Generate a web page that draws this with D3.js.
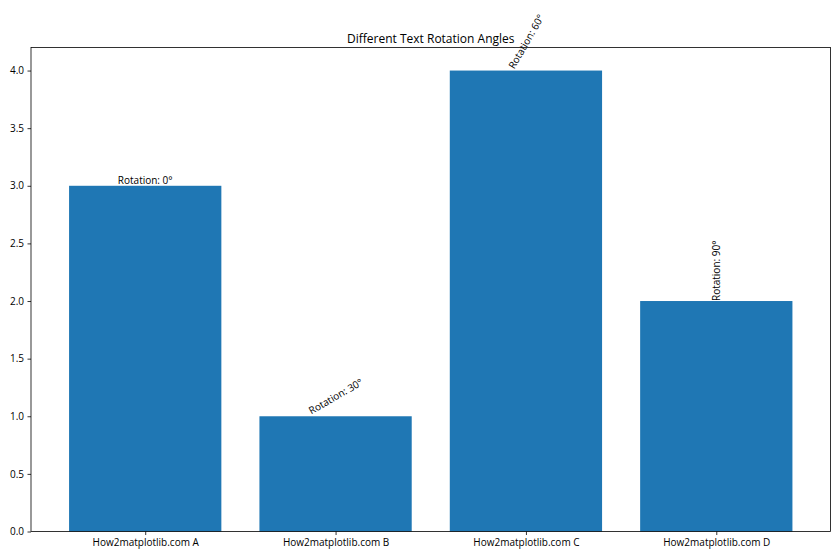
<!DOCTYPE html>
<html>
<head>
<meta charset="utf-8">
<script src="https://cdn.jsdelivr.net/npm/d3@7"></script>
<style>
  body { margin: 0; background: #fff; }
  svg { display: block; }
  text { font-family: "Open Sans", "Noto Sans", sans-serif; fill: #000; }
</style>
</head>
<body>
<svg id="chart" width="840" height="560"></svg>
<script>
const categories = ["How2matplotlib.com A", "How2matplotlib.com B", "How2matplotlib.com C", "How2matplotlib.com D"];
const values = [3, 1, 4, 2];
const rotations = [0, 30, 60, 90];
const labels = ["Rotation: 0°", "Rotation: 30°", "Rotation: 60°", "Rotation: 90°"];
const yTicks = [0, 0.5, 1, 1.5, 2, 2.5, 3, 3.5, 4];
const title = "Different Text Rotation Angles";

const W = 840, H = 560;
const m = { left: 31, right: 9.5, top: 47.5, bottom: 28.5 };
const svg = d3.select("#chart");

const x = d3.scaleLinear().domain([-0.6, categories.length - 1 + 0.6]).range([m.left, W - m.right]);
const y = d3.scaleLinear().domain([0, 4.2]).range([H - m.bottom, m.top]);
const barW = 0.8;

svg.append("g").selectAll("rect").data(values).join("rect")
  .attr("x", (d, i) => x(i - barW / 2))
  .attr("width", (d, i) => x(i + barW / 2) - x(i - barW / 2))
  .attr("y", d => y(d))
  .attr("height", d => y(0) - y(d))
  .attr("fill", "#1f77b4");

// axes
const yAxis = d3.axisLeft(y).tickValues(yTicks).tickFormat(d3.format(".1f")).tickSize(3.5).tickPadding(3.5);
const gy = svg.append("g").attr("transform", `translate(${m.left},0)`).call(yAxis);
const xAxis = d3.axisBottom(x).tickValues(d3.range(categories.length)).tickFormat(i => categories[i]).tickSize(3.5).tickPadding(3.5);
const gx = svg.append("g").attr("transform", `translate(0,${H - m.bottom})`).call(xAxis);
[gx, gy].forEach(g => {
  g.select(".domain").remove();
  g.selectAll("line").attr("stroke", "#000").attr("stroke-width", 0.8);
  g.selectAll("text").attr("font-size", 10).attr("fill", "#000").style("font-family", '"Open Sans", sans-serif');
});

// frame
svg.append("rect").attr("x", m.left).attr("y", m.top)
  .attr("width", W - m.right - m.left).attr("height", H - m.bottom - m.top)
  .attr("fill", "none").attr("stroke", "#000").attr("stroke-width", 0.8);

// title
svg.append("text").attr("x", (m.left + W - m.right) / 2).attr("y", m.top - 5)
  .attr("text-anchor", "middle").attr("font-size", 12).text(title);

// rotated labels: bbox centered on bar, bottom at bar top
values.forEach((v, i) => {
  const g = svg.append("g");
  const t = g.append("text").attr("font-size", 10).attr("text-anchor", "middle")
    .attr("dominant-baseline", "central").text(labels[i]);
  const w = t.node().getComputedTextLength();
  const h = 12;
  const a = rotations[i] * Math.PI / 180;
  const hy = (w / 2) * Math.sin(a) + (h / 2) * Math.cos(a);
  g.attr("transform", `translate(${x(i)},${y(v) - hy}) rotate(${-rotations[i]})`);
});
</script>
</body>
</html>
